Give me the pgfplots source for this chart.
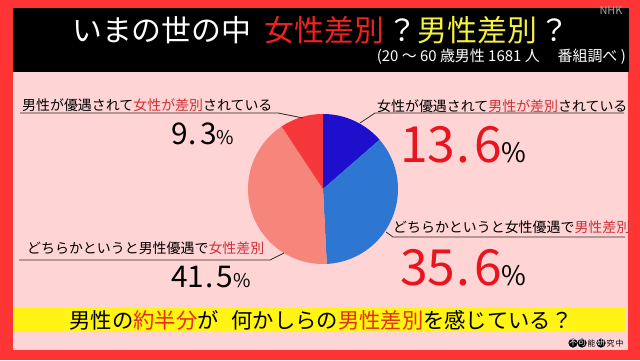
\documentclass[border=0pt]{standalone}
\usepackage{pgfplots}
\pgfplotsset{compat=1.18}
\usepackage{fontspec}
\setmainfont{Noto Sans CJK JP}
\newcommand\fs[1]{\fontsize{#1}{#1}\selectfont}
\definecolor{bgred}{RGB}{255,52,52}
\definecolor{panelpink}{RGB}{255,212,212}
\definecolor{bandyellow}{RGB}{255,244,20}
\definecolor{tred}{RGB}{240,34,30}
\definecolor{tyellow}{RGB}{245,242,60}
\definecolor{lred}{RGB}{206,48,56}
\definecolor{bigred}{RGB}{232,20,30}
\definecolor{bred}{RGB}{228,48,16}
\definecolor{pdblue}{RGB}{30,15,204}
\definecolor{pmblue}{RGB}{45,119,210}
\definecolor{psalmon}{RGB}{246,133,124}
\definecolor{pred}{RGB}{245,54,58}
\definecolor{leader}{RGB}{50,40,40}
\begin{document}
\begin{tikzpicture}
\begin{axis}[width=640bp,height=360bp,scale only axis,
  xmin=0,xmax=640,ymin=0,ymax=360,y dir=reverse,hide axis,clip=false]
% background frame
\fill[bgred] (0,0) rectangle (640,360);
\fill[black] (13,8) rectangle (629,72);
\fill[panelpink] (13,72) rectangle (628,350);
\fill[bandyellow] (13,308) rectangle (625,332);
% title
\node[text=white,inner sep=0] at (321,30) {\fs{30}いまの世の中\hspace{0.45em}\textcolor{tred}{女性差別}\hspace{0.1em}？\textcolor{tyellow}{男性差別}\hspace{0.1em}？};
\node[text=white,inner sep=0,anchor=east] at (626,57) {\fs{15}(20 ～ 60 歳男性 1681 人\hspace{1.2em}番組調べ )};
\node[text=gray!70,inner sep=0] at (611,10) {\fs{11}NHK};
% pie slices (percentages clockwise from top)
\addplot[fill=pdblue,draw=none,domain=0:13.6,samples=40,variable=\t]
  ({323+75*sin(3.6*\t)},{189-75*cos(3.6*\t)}) -- (323,189) -- cycle;
\addplot[fill=pmblue,draw=none,domain=13.6:49.2,samples=60,variable=\t]
  ({323+75*sin(3.6*\t)},{189-75*cos(3.6*\t)}) -- (323,189) -- cycle;
\addplot[fill=psalmon,draw=none,domain=49.2:90.7,samples=60,variable=\t]
  ({323+75*sin(3.6*\t)},{189-75*cos(3.6*\t)}) -- (323,189) -- cycle;
\addplot[fill=pred,draw=none,domain=90.7:100,samples=30,variable=\t]
  ({323+75*sin(3.6*\t)},{189-75*cos(3.6*\t)}) -- (323,189) -- cycle;
% leader lines
\draw[leader,line width=0.8bp] (20,113) -- (278,113) -- (303,118);
\draw[leader,line width=0.8bp] (19,260) -- (270,260) -- (284,253);
\draw[leader,line width=0.8bp] (360,123) -- (375,113) -- (624,113);
\draw[leader,line width=0.8bp] (386,232) -- (393,237) -- (625,237);
% labels
\node[anchor=west,inner sep=0] at (22,105) {\fs{14}男性が優遇されて\textcolor{lred}{女性が差別}されている};
\node[anchor=west,inner sep=0] at (27,248) {\fs{14}どちらかというと男性優遇で\textcolor{lred}{女性差別}};
\node[anchor=west,inner sep=0] at (377,106) {\fs{14}女性が優遇されて\textcolor{lred}{男性が差別}されている};
\node[anchor=west,inner sep=0] at (393,227) {\fs{14}どちらかというと女性優遇で\textcolor{lred}{男性差別}};
% values
\node[anchor=base west,inner sep=0] at (171,144) {\fs{30}9\hspace{1bp}.\hspace{3bp}3\fs{19}\%};
\node[anchor=base west,inner sep=0] at (171,287) {\fs{30}41\hspace{1bp}.\hspace{3bp}5\fs{19}\%};
\node[anchor=base west,inner sep=0] at (400,162) {\fs{50}\textcolor{bigred}{13\hspace{1bp}.\hspace{4bp}6}\fs{27}\%};
\node[anchor=base west,inner sep=0] at (400,285) {\fs{50}\textcolor{bigred}{35\hspace{1bp}.\hspace{4bp}6}\fs{27}\%};
% bottom band
\node[inner sep=0] at (321,320) {\fs{21.4}男性の\textcolor{bred}{約半分}が\hspace{0.6em}何かしらの\textcolor{bred}{男性差別}を感じている？};
% stamp
\fill[black] (573,343) circle[radius=4.6bp];
\fill[black] (582,343) circle[radius=4.6bp];
\fill[black] (601,343) circle[radius=4.6bp];
\node[text=white,inner sep=0] at (573,343) {\fs{8}不};
\node[text=white,inner sep=0] at (582,343) {\fs{8}可};
\node[inner sep=0] at (591.5,343) {\fs{8}能};
\node[text=white,inner sep=0] at (601,343) {\fs{8}研};
\node[inner sep=0] at (610.5,343) {\fs{8}究};
\node[inner sep=0] at (619.5,343) {\fs{8}中};
\end{axis}
\end{tikzpicture}
\end{document}
